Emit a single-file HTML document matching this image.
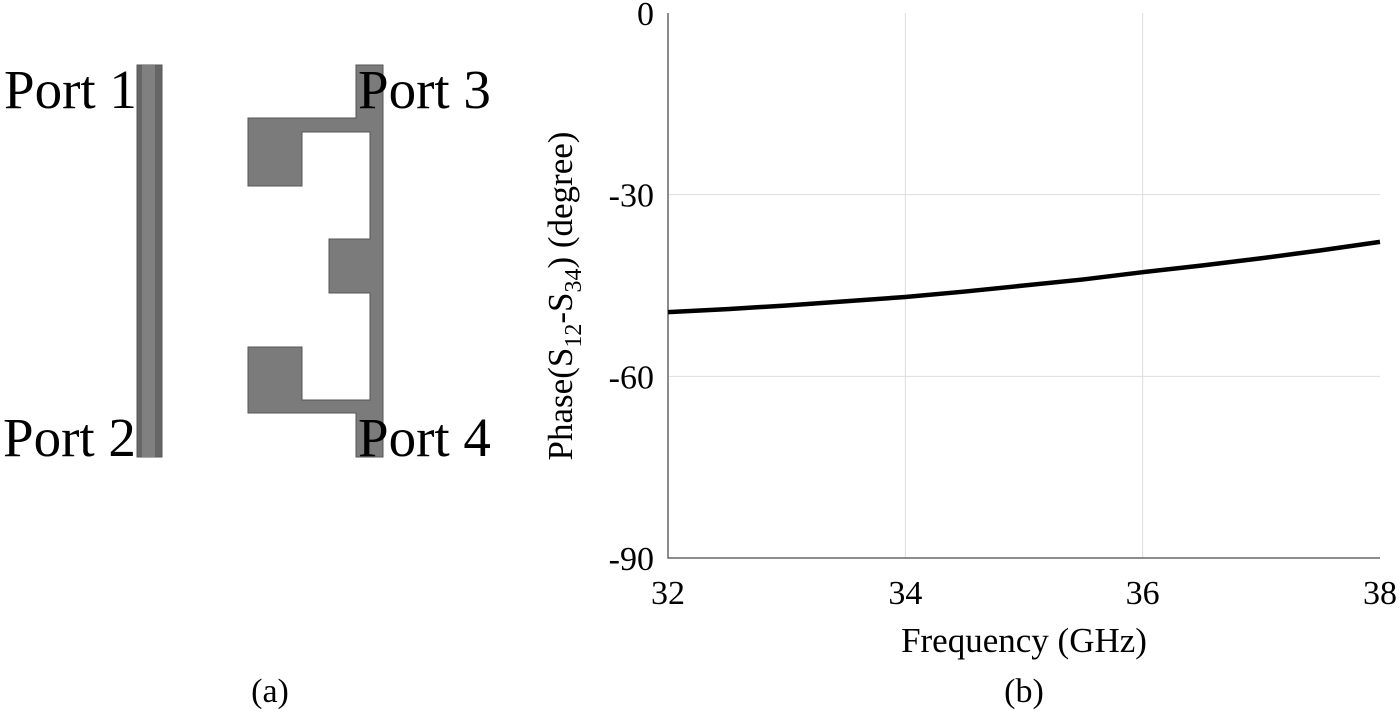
<!DOCTYPE html>
<html><head><meta charset="utf-8"><style>
body{margin:0;background:#fff;}
svg{display:block;font-family:"Liberation Serif",serif;}
</style></head><body>
<svg width="1400" height="725" viewBox="0 0 1400 725">
<g fill="#7b7b7b" stroke="#555" stroke-width="1">
  <rect x="137" y="65" width="25" height="392" fill="#666"/>
  <rect x="142" y="65" width="13" height="392" fill="#808080" stroke="none"/>
  <path d="M356 65 H383 V457 H356 V413 H248 V347 H302 V400 H370 V293 H329 V239 H370 V132 H302 V186 H248 V118 H356 Z"/>
</g>
<g font-size="55" fill="#000">
  <text x="4" y="108">Port 1</text>
  <text x="358" y="108">Port 3</text>
  <text x="3" y="456">Port 2</text>
  <text x="358" y="456">Port 4</text>
</g>
<text x="270" y="702" font-size="34" text-anchor="middle">(a)</text>
<text x="1024" y="702" font-size="34" text-anchor="middle">(b)</text>
<g id="chart"></g>
</svg>
<script>
const freqs=[32,32.5,33,33.5,34,34.5,35,35.5,36,36.5,37,37.5,38];
const phase=[-49.4,-48.9,-48.3,-47.6,-46.9,-46.0,-45.0,-44.0,-42.8,-41.7,-40.5,-39.2,-37.8];
const xTicks=[32,34,36,38];
const yTicks=[0,-30,-60,-90];
const NS='http://www.w3.org/2000/svg';
const L=668,R=1380,T=13,B=558;
const sx=v=>L+(v-32)/(38-32)*(R-L);
const sy=v=>T+(0-v)/90*(B-T);
const g=document.getElementById('chart');
function mk(t,a,txt){const e=document.createElementNS(NS,t);for(const k in a)e.setAttribute(k,a[k]);if(txt!=null)e.textContent=txt;g.appendChild(e);return e;}
xTicks.forEach(v=>{
  if(v>32&&v<38){const l=mk('line',{x1:sx(v),x2:sx(v),y1:T,y2:B,stroke:'#ddd','stroke-width':1});
  
  }
  const t=mk('text',{x:sx(v),y:B+46,'font-size':34,'text-anchor':'middle'},v);
  
  
});
yTicks.forEach(v=>{
  if(v<0&&v>-90){const l=mk('line',{x1:L,x2:R,y1:sy(v),y2:sy(v),stroke:'#ddd','stroke-width':1});
  
  }
  const t=mk('text',{x:L-14,y:sy(v)+12,'font-size':34,'text-anchor':'end'},v);
  
  
});
const ax=mk('path',{d:`M${L} ${T} V${B} H${R}`,fill:'none',stroke:'#666','stroke-width':1.5});


const ln=mk('polyline',{points:freqs.map((f,i)=>sx(f)+','+sy(phase[i])).join(' '),fill:'none',stroke:'#000','stroke-width':4.5,'stroke-linejoin':'round'});


const xt=mk('text',{x:(L+R)/2,y:652,'font-size':35,'text-anchor':'middle'},'Frequency (GHz)');


const yt=mk('text',{transform:'translate(572,296) rotate(-90)','font-size':35,'text-anchor':'middle'});


yt.innerHTML='Phase(S<tspan font-size="24" dy="9">12</tspan><tspan dy="-9">-S</tspan><tspan font-size="24" dy="9">34</tspan><tspan dy="-9">) (degree)</tspan>';
</script>
</body></html>
